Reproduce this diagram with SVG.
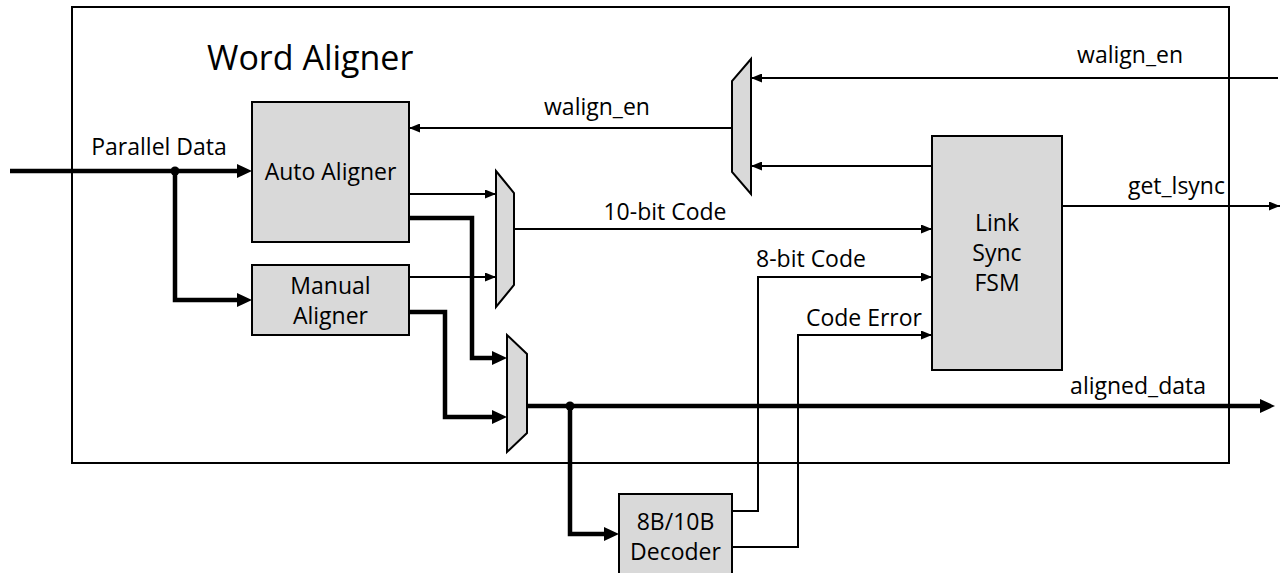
<svg xmlns="http://www.w3.org/2000/svg" width="1284" height="573" viewBox="0 0 1284 573">
<style>
text{font-family:"Open Sans","Liberation Sans",sans-serif;fill:#000;}
.lbl{font-size:23px;}
.ttl{font-size:34px;}
.blk{fill:#d9d9d9;stroke:#000;stroke-width:2;}
.thin{fill:none;stroke:#000;stroke-width:2;}
.thick{fill:none;stroke:#000;stroke-width:4.5;}
</style>
<defs>
<marker id="a" markerUnits="userSpaceOnUse" viewBox="0 0 11 9" refX="11" refY="4.5" markerWidth="11" markerHeight="9" orient="auto"><path d="M0,0 L11,4.5 L0,9 z" fill="#000"/></marker>
<marker id="A" markerUnits="userSpaceOnUse" viewBox="0 0 15 14" refX="5" refY="7" markerWidth="15" markerHeight="14" orient="auto"><path d="M0,0 L15,7 L0,14 z" fill="#000"/></marker>
</defs>
<rect id="word-aligner" x="72" y="7" width="1157" height="456" fill="none" stroke="#000" stroke-width="2"/>
<text class="ttl" x="207" y="70">Word Aligner</text>

<g id="auto-aligner"><rect class="blk" x="252" y="102" width="157" height="140"/><text class="lbl" x="330.5" y="180" text-anchor="middle">Auto Aligner</text></g>
<g id="manual-aligner"><rect class="blk" x="252" y="265" width="157" height="70"/><text class="lbl" x="330.5" y="294" text-anchor="middle">Manual</text><text class="lbl" x="330.5" y="324" text-anchor="middle">Aligner</text></g>
<g id="mux1"><path class="blk" d="M496,171 L514,193 L514,285 L496,307 Z"/></g>
<g id="mux2"><path class="blk" d="M507,335 L527,354 L527,433 L507,452 Z"/></g>
<g id="mux3"><path class="blk" d="M751,59 L732,81 L732,172 L751,194 Z"/></g>
<g id="link-sync-fsm"><rect class="blk" x="932" y="136" width="130" height="234"/><text class="lbl" x="997" y="231" text-anchor="middle">Link</text><text class="lbl" x="997" y="261" text-anchor="middle">Sync</text><text class="lbl" x="997" y="291" text-anchor="middle">FSM</text></g>
<g id="decoder"><rect class="blk" x="619" y="494" width="113" height="86"/><text class="lbl" x="675.5" y="530" text-anchor="middle">8B/10B</text><text class="lbl" x="675.5" y="560" text-anchor="middle">Decoder</text></g>

<g id="connectors">
<path class="thick" d="M10,171 L242,171" marker-end="url(#A)"/>
<path class="thick" d="M175,171 L175,300 L242,300" marker-end="url(#A)"/>
<circle cx="175" cy="171" r="4.5" fill="#000"/>
<path class="thin" d="M409,194 L496,194" marker-end="url(#a)"/>
<path class="thin" d="M409,277 L496,277" marker-end="url(#a)"/>
<path class="thick" d="M409,218 L472,218 L472,358 L497,358" marker-end="url(#A)"/>
<path class="thick" d="M409,312 L445,312 L445,417 L497,417" marker-end="url(#A)"/>
<path class="thin" d="M514,229 L932,229" marker-end="url(#a)"/>
<path class="thick" d="M527,406 L1265,406" marker-end="url(#A)"/>
<circle cx="570" cy="406" r="4.5" fill="#000"/>
<path class="thick" d="M570,406 L570,534 L609,534" marker-end="url(#A)"/>
<path class="thin" d="M732,511 L758,511 L758,277 L932,277" marker-end="url(#a)"/>
<path class="thin" d="M732,547 L798,547 L798,335 L932,335" marker-end="url(#a)"/>
<path class="thin" d="M1278,78 L751,78" marker-end="url(#a)"/>
<path class="thin" d="M932,166 L751,166" marker-end="url(#a)"/>
<path class="thin" d="M732,128 L409,128" marker-end="url(#a)"/>
<path class="thin" d="M1062,206 L1280,206" marker-end="url(#a)"/>
</g>

<text class="lbl" x="159" y="155" text-anchor="middle">Parallel Data</text>
<text class="lbl" x="597" y="115" text-anchor="middle">walign_en</text>
<text class="lbl" x="1183" y="63" text-anchor="end">walign_en</text>
<text class="lbl" x="665" y="220" text-anchor="middle">10-bit Code</text>
<text class="lbl" x="811" y="267" text-anchor="middle">8-bit Code</text>
<text class="lbl" x="922" y="326" text-anchor="end">Code Error</text>
<text class="lbl" x="1225" y="194" text-anchor="end">get_lsync</text>
<text class="lbl" x="1206" y="394" text-anchor="end">aligned_data</text>
</svg>
